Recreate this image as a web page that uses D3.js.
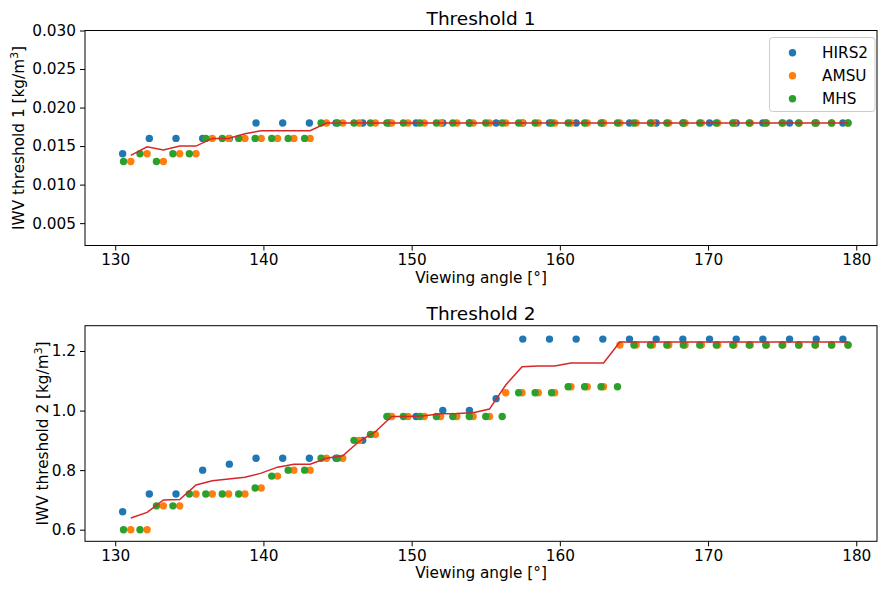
<!DOCTYPE html>
<html>
<head>
<meta charset="utf-8">
<script src="https://cdn.jsdelivr.net/npm/d3@7"></script>
<style>
  body { margin: 0; background: #fff; }
  svg text { font-family: "DejaVu Sans", sans-serif; fill: #000; }
</style>
</head>
<body>
<div id="chart"></div>
<script>
// viewing angles of each instrument's scan positions
var hirsAngle = [130.5, 132.3, 134.1, 135.9, 137.7, 139.5, 141.3, 143.1, 144.9, 146.7,
  148.5, 150.3, 152.1, 153.9, 155.7, 157.5, 159.3, 161.1, 162.9, 164.7,
  166.5, 168.3, 170.1, 171.9, 173.7, 175.5, 177.3, 179.1];
var amsuAngle = [131.05, 132.15, 133.25, 134.35, 135.45, 136.55, 137.65, 138.75, 139.85, 140.95,
  142.05, 143.15, 144.25, 145.35, 146.45, 147.55, 148.65, 149.75, 150.85, 151.95,
  153.05, 154.15, 155.25, 156.35, 157.45, 158.55, 159.65, 160.75, 161.85, 162.95,
  164.05, 165.15, 166.25, 167.35, 168.45, 169.55, 170.65, 171.75, 172.85, 173.95,
  175.05, 176.15, 177.25, 178.35, 179.45];
var mhsAngle = [130.56, 131.67, 132.78, 133.89, 135.00, 136.11, 137.22, 138.33, 139.44, 140.56,
  141.67, 142.78, 143.89, 145.00, 146.11, 147.22, 148.33, 149.44, 150.56, 151.67,
  152.78, 153.89, 155.00, 156.11, 157.22, 158.33, 159.44, 160.56, 161.67, 162.78,
  163.89, 165.00, 166.11, 167.22, 168.33, 169.44, 170.56, 171.67, 172.78, 173.89,
  175.00, 176.11, 177.22, 178.33, 179.44];

// threshold 1
var hirsT1 = [0.014, 0.016, 0.016, 0.016, 0.016, 0.018, 0.018, 0.018, 0.018, 0.018,
  0.018, 0.018, 0.018, 0.018, 0.018, 0.018, 0.018, 0.018, 0.018, 0.018,
  0.018, 0.018, 0.018, 0.018, 0.018, 0.018, 0.018, 0.018];
var amsuT1 = [0.013, 0.014, 0.013, 0.014, 0.014, 0.016, 0.016, 0.016, 0.016, 0.016,
  0.016, 0.016, 0.018, 0.018, 0.018, 0.018, 0.018, 0.018, 0.018, 0.018,
  0.018, 0.018, 0.018, 0.018, 0.018, 0.018, 0.018, 0.018, 0.018, 0.018,
  0.018, 0.018, 0.018, 0.018, 0.018, 0.018, 0.018, 0.018, 0.018, 0.018,
  0.018, 0.018, 0.018, 0.018, 0.018];
var mhsT1 = [0.013, 0.014, 0.013, 0.014, 0.014, 0.016, 0.016, 0.016, 0.016, 0.016,
  0.016, 0.016, 0.018, 0.018, 0.018, 0.018, 0.018, 0.018, 0.018, 0.018,
  0.018, 0.018, 0.018, 0.018, 0.018, 0.018, 0.018, 0.018, 0.018, 0.018,
  0.018, 0.018, 0.018, 0.018, 0.018, 0.018, 0.018, 0.018, 0.018, 0.018,
  0.018, 0.018, 0.018, 0.018, 0.018];
// red line, sampled at the AMSU angles
var meanT1 = [0.0138, 0.0149, 0.0145, 0.0150, 0.0150, 0.0160, 0.0160, 0.0166, 0.0170, 0.0170,
  0.0170, 0.0170, 0.0180, 0.0180, 0.0180, 0.0180, 0.0180, 0.0180, 0.0180, 0.0180,
  0.0180, 0.0180, 0.0180, 0.0180, 0.0180, 0.0180, 0.0180, 0.0180, 0.0180, 0.0180,
  0.0180, 0.0180, 0.0180, 0.0180, 0.0180, 0.0180, 0.0180, 0.0180, 0.0180, 0.0180,
  0.0180, 0.0180, 0.0180, 0.0180, 0.0180];

// threshold 2
var hirsT2 = [0.66, 0.72, 0.72, 0.80, 0.82, 0.84, 0.84, 0.84, 0.84, 0.90,
  0.98, 0.98, 1.00, 1.00, 1.04, 1.24, 1.24, 1.24, 1.24, 1.24,
  1.24, 1.24, 1.24, 1.24, 1.24, 1.24, 1.24, 1.24];
var amsuT2 = [0.60, 0.60, 0.68, 0.68, 0.72, 0.72, 0.72, 0.72, 0.74, 0.78,
  0.80, 0.80, 0.84, 0.84, 0.90, 0.92, 0.98, 0.98, 0.98, 0.98,
  0.98, 0.98, 0.98, 1.06, 1.06, 1.06, 1.06, 1.08, 1.08, 1.08,
  1.22, 1.22, 1.22, 1.22, 1.22, 1.22, 1.22, 1.22, 1.22, 1.22,
  1.22, 1.22, 1.22, 1.22, 1.22];
var mhsT2 = [0.60, 0.60, 0.68, 0.68, 0.72, 0.72, 0.72, 0.72, 0.74, 0.78,
  0.80, 0.80, 0.84, 0.84, 0.90, 0.92, 0.98, 0.98, 0.98, 0.98,
  0.98, 0.98, 0.98, 0.98, 1.06, 1.06, 1.06, 1.08, 1.08, 1.08,
  1.08, 1.22, 1.22, 1.22, 1.22, 1.22, 1.22, 1.22, 1.22, 1.22,
  1.22, 1.22, 1.22, 1.22, 1.22];
var meanT2 = [0.639, 0.658, 0.700, 0.701, 0.750, 0.764, 0.770, 0.776, 0.790, 0.810,
  0.820, 0.820, 0.840, 0.848, 0.896, 0.929, 0.980, 0.980, 0.983, 0.989,
  0.990, 0.993, 1.005, 1.086, 1.147, 1.150, 1.150, 1.160, 1.160, 1.160,
  1.230, 1.230, 1.230, 1.230, 1.230, 1.230, 1.230, 1.230, 1.230, 1.230,
  1.230, 1.230, 1.230, 1.230, 1.230];

var xTicks = [130, 140, 150, 160, 170, 180];
var t1Ticks = [0.005, 0.010, 0.015, 0.020, 0.025, 0.030];
var t2Ticks = [0.6, 0.8, 1.0, 1.2];

var seriesNames = ["HIRS2", "AMSU", "MHS"];
var colors = ["#1f77b4", "#ff7f0e", "#2ca02c"];

var W = 878, H = 590;
var svg = d3.select("#chart").append("svg")
  .attr("width", W).attr("height", H);

function panel(opt) {
  var x = d3.scaleLinear().domain([127.96, 181.4]).range([85, 877]);
  var y = d3.scaleLinear().domain(opt.yDomain).range([opt.bottom, opt.top]);
  var g = svg.append("g");

  // scatter, drawn in series order so MHS ends on top
  var sets = [[hirsAngle, opt.hirs], [amsuAngle, opt.amsu], [mhsAngle, opt.mhs]];
  sets.forEach(function(s, k) {
    g.append("g").selectAll("circle")
      .data(s[1])
      .enter().append("circle")
      .attr("cx", function(d, i) { return x(s[0][i]); })
      .attr("cy", function(d) { return y(d); })
      .attr("r", 3.7)
      .style("fill", colors[k]);
  });

  var line = d3.line()
    .x(function(d, i) { return x(amsuAngle[i]); })
    .y(function(d) { return y(d); });
  g.append("path")
    .datum(opt.mean)
    .attr("d", line)
    .style("fill", "none")
    .style("stroke", "#d62728")
    .style("stroke-width", 1.5);

  var xAxis = g.append("g")
    .attr("transform", "translate(0," + opt.bottom + ")")
    .call(d3.axisBottom(x).tickValues(xTicks).tickSize(5).tickPadding(4).tickFormat(d3.format("d")));
  var yAxis = g.append("g")
    .attr("transform", "translate(85,0)")
    .call(d3.axisLeft(y).tickValues(opt.yTicks).tickSize(5).tickPadding(4).tickFormat(d3.format(opt.fmt)));
  [xAxis, yAxis].forEach(function(a) {
    a.select(".domain").remove();
    a.selectAll("text").style("font-size", "15.3px").style("font-family", "DejaVu Sans");
    a.selectAll("line").style("stroke", "#000").style("stroke-width", 1);
  });

  // frame
  g.append("rect")
    .attr("x", 85).attr("y", opt.top)
    .attr("width", 792).attr("height", opt.bottom - opt.top)
    .style("fill", "none").style("stroke", "#000").style("stroke-width", 1);

  g.append("text")
    .attr("x", 481).attr("y", opt.top - 5.5)
    .attr("text-anchor", "middle")
    .style("font-size", "18.5px")
    .text(opt.title);

  g.append("text")
    .attr("x", 481).attr("y", opt.bottom + 37)
    .attr("text-anchor", "middle")
    .style("font-size", "15.3px")
    .text("Viewing angle [°]");

  var yl = g.append("text")
    .attr("transform", "translate(" + opt.ylabelX + "," + ((opt.top + opt.bottom) / 2) + ") rotate(-90)")
    .attr("text-anchor", "middle")
    .style("font-size", "15.3px");
  yl.append("tspan").text(opt.ylabel + " [kg/m");
  yl.append("tspan").attr("dy", -6).style("font-size", "10.7px").text("3");
  yl.append("tspan").attr("dy", 6).text("]");
}

panel({
  top: 30.5, bottom: 245.5, yDomain: [0.0021, 0.030],
  hirs: hirsT1, amsu: amsuT1, mhs: mhsT1, mean: meanT1,
  yTicks: t1Ticks, fmt: ".3f", title: "Threshold 1",
  ylabel: "IWV threshold 1", ylabelX: 24
});
panel({
  top: 325.7, bottom: 541.3, yDomain: [0.561, 1.285],
  hirs: hirsT2, amsu: amsuT2, mhs: mhsT2, mean: meanT2,
  yTicks: t2Ticks, fmt: ".1f", title: "Threshold 2",
  ylabel: "IWV threshold 2", ylabelX: 48
});

// legend on the first panel
var leg = svg.append("g").attr("transform", "translate(769.5,37.5)");
leg.append("rect")
  .attr("width", 105.5).attr("height", 74).attr("rx", 3)
  .style("fill", "#fff").style("fill-opacity", 0.8)
  .style("stroke", "#ccc").style("stroke-width", 1);
seriesNames.forEach(function(n, k) {
  leg.append("circle")
    .attr("cx", 23).attr("cy", 15.2 + k * 23).attr("r", 3.7)
    .style("fill", colors[k]);
  leg.append("text")
    .attr("x", 52.5).attr("y", 15.2 + k * 23).attr("dy", "0.35em")
    .style("font-size", "15.3px")
    .text(n);
});
</script>
</body>
</html>
